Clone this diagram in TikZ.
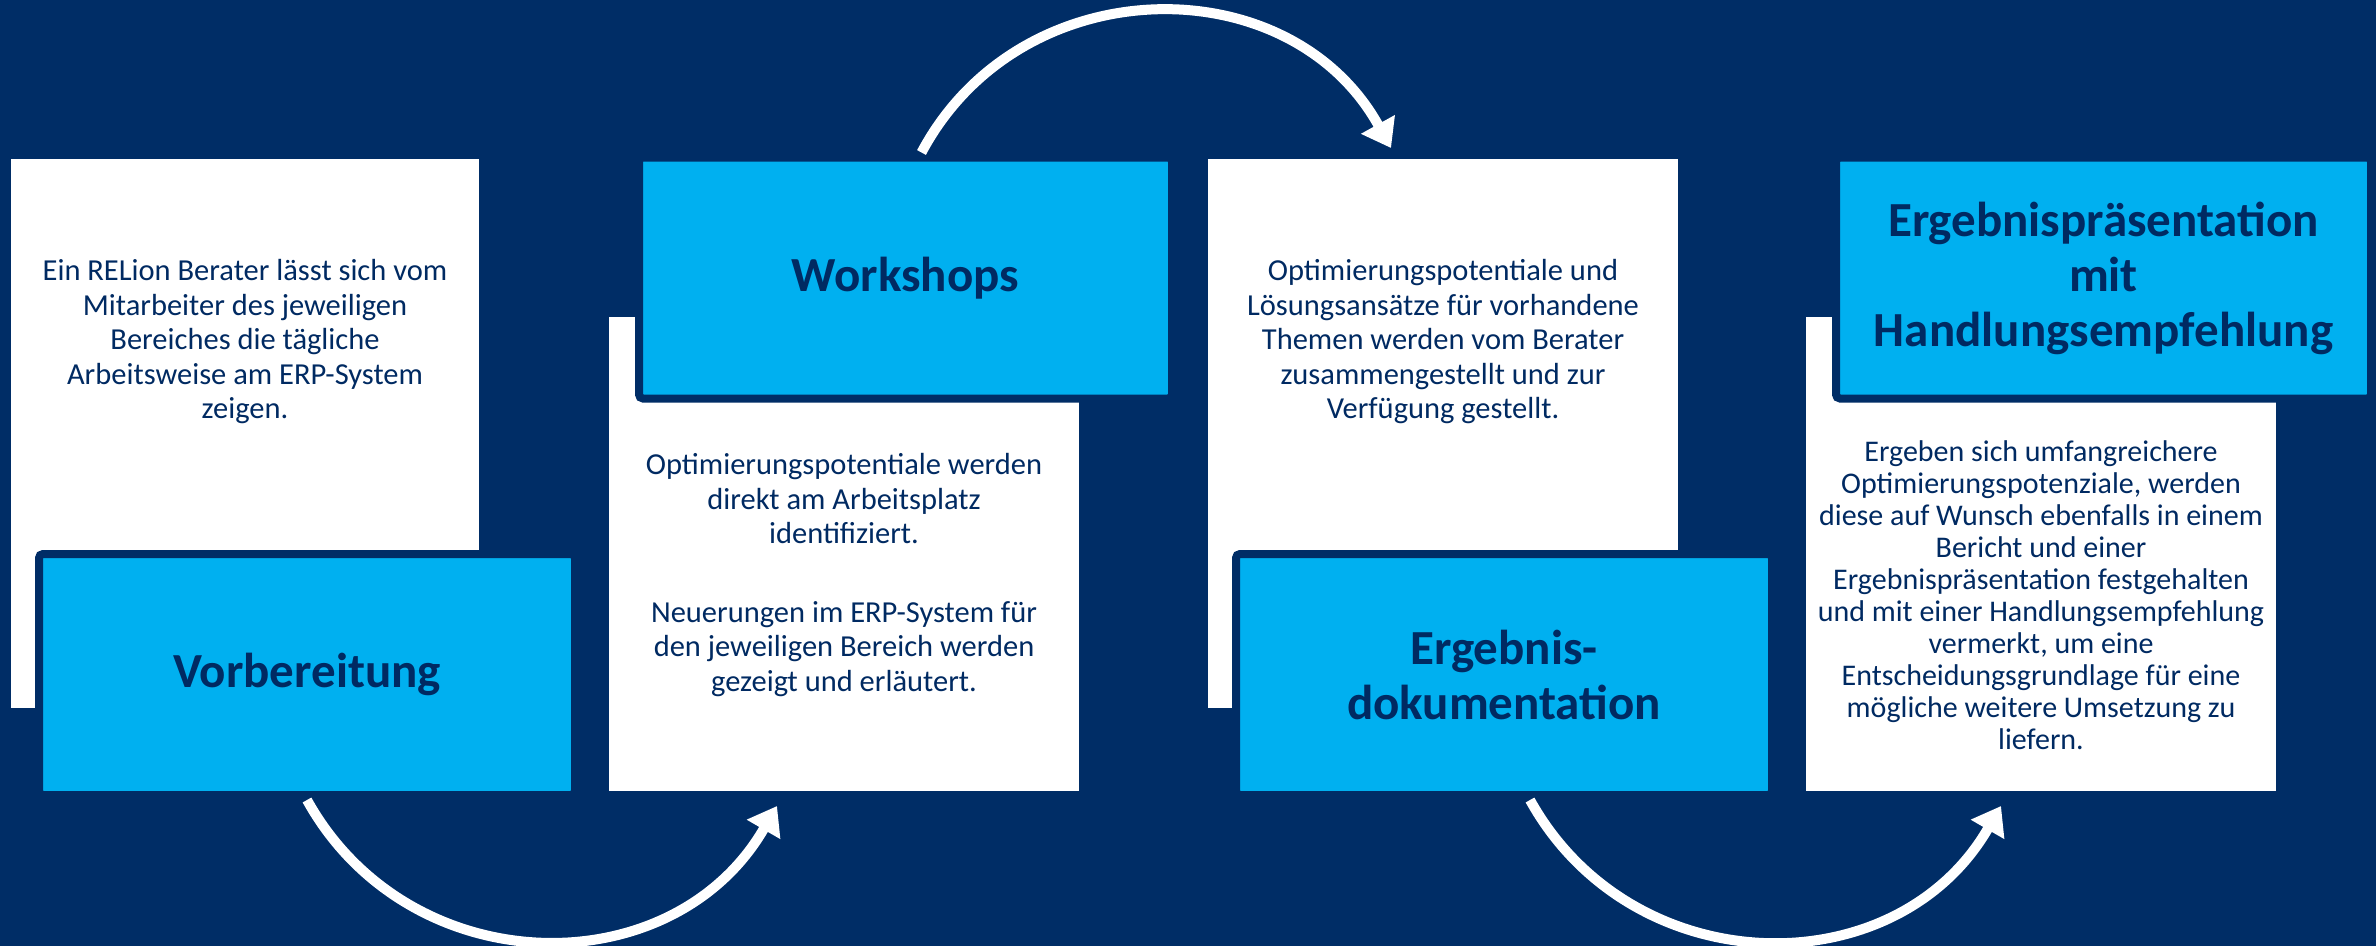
\documentclass[tikz,border=0pt]{standalone}
\usepackage{fontspec}
\setmainfont{Carlito}
\usepackage{tikz}
\usetikzlibrary{positioning, arrows.meta}

\definecolor{navy}{HTML}{002D66}
\definecolor{skyblue}{HTML}{00B0F0}
\definecolor{inkblue}{HTML}{002A62}

\begin{document}
\begin{tikzpicture}[x=1pt, y=-1pt,
    whitebox/.style = {rectangle, fill=white, anchor=north west,
                       minimum width=470pt, minimum height=#1,
                       inner sep=0pt, outer sep=0pt},
    whitebox/.default = 474pt,
    bluebox/.style = {rectangle, fill=skyblue, draw=navy, line width=8pt,
                      rounded corners=4pt, minimum width=536pt, minimum height=241pt,
                      inner sep=0pt, outer sep=0pt, text=inkblue, align=center,
                      font=\bfseries\fontsize{49}{55}\selectfont},
    bodytext/.style = {align=center, text=inkblue, inner sep=0pt,
                       font=\fontsize{30.5}{#1}\selectfont},
    bodytext/.default = 34.5
    ]
            % styles
            \tikzstyle{flow} = [line width=10pt, draw=white, -{Triangle[length=27pt, width=37pt]}]

            % background
            \fill[navy] (0,0) rectangle (2376,946);
            \useasboundingbox (0,0) rectangle (2376,946);

            \node (w1) [whitebox=549pt, minimum width=468pt] at (11,159) {};
            \node (w2) [whitebox] at (609,317) {};
            \node (w3) [whitebox=549pt] at (1208,159) {};
            \node (w4) [whitebox] at (1806,317) {};

            \node (t1) [bodytext] at (245,342) {Ein RELion Berater lässt sich vom\\Mitarbeiter des jeweiligen\\Bereiches die tägliche\\Arbeitsweise am ERP-System\\zeigen.};
            \node (t2) [bodytext] at (844,575) {Optimierungspotentiale werden\\direkt am Arbeitsplatz\\identifiziert.\\[44pt]Neuerungen im ERP-System für\\den jeweiligen Bereich werden\\gezeigt und erläutert.};
            \node (t3) [bodytext] at (1443,342) {Optimierungspotentiale und\\Lösungsansätze für vorhandene\\Themen werden vom Berater\\zusammengestellt und zur\\Verfügung gestellt.};
            \node (t4) [bodytext=32, font=\fontsize{30}{32}\selectfont] at (2041,595) {Ergeben sich umfangreichere\\Optimierungspotenziale, werden\\diese auf Wunsch ebenfalls in einem\\Bericht und einer\\Ergebnispräsentation festgehalten\\und mit einer Handlungsempfehlung\\vermerkt, um eine\\Entscheidungsgrundlage für eine\\mögliche weitere Umsetzung zu\\liefern.};

            \node (b1) [bluebox] at (307,674.5) {Vorbereitung};
            \node (b2) [bluebox, minimum width=533pt] at (905.5,278) {Workshops};
            \node (b3) [bluebox] at (1504,674.5) {Ergebnis-\\dokumentation};
            \node (b4) [bluebox, minimum width=535pt] at (2103.5,278) {Ergebnispräsentation\\mit\\Handlungsempfehlung};

            \draw [flow] ([yshift=-5pt]b1.south) to[out=-61, in=-120, looseness=1.14] ([xshift=168pt, yshift=-15pt]w2.south west);
            \draw [flow] ([xshift=16pt, yshift=5pt]b2.north) to[out=62, in=119, looseness=1.14] ([xshift=183pt, yshift=11pt]w3.north west);
            \draw [flow] ([xshift=26pt, yshift=-5pt]b3.south) to[out=-61, in=-120, looseness=1.14] ([xshift=195pt, yshift=-15pt]w4.south west);
    \end{tikzpicture}
\end{document}
